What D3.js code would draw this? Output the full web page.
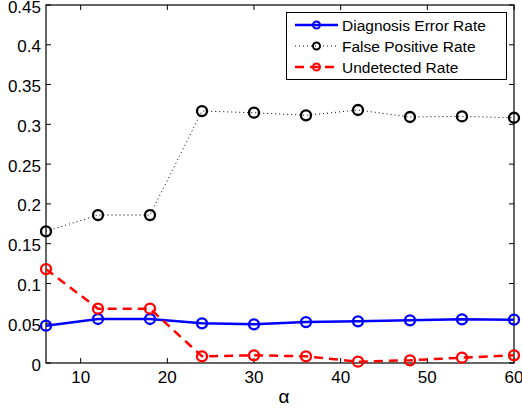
<!DOCTYPE html>
<html>
<head>
<meta charset="utf-8">
<script src="https://cdn.jsdelivr.net/npm/d3@7"></script>
<style>
  body { margin: 0; background: #fff; }
  text { font-family: "Liberation Sans", Arial, sans-serif; fill: #000; }
</style>
</head>
<body>
<svg id="chart" width="522" height="413"></svg>
<script>
// data
const alphas = [6, 12, 18, 24, 30, 36, 42, 48, 54, 60];
const diagnosisError = [0.0469, 0.0553, 0.0553, 0.0499, 0.0486, 0.0515, 0.0524, 0.0536, 0.0549, 0.0544];
const falsePositive = [0.1655, 0.186, 0.186, 0.3167, 0.3146, 0.3113, 0.318, 0.3092, 0.310, 0.3083];
const undetected = [0.118, 0.0683, 0.0683, 0.0084, 0.0097, 0.0084, 0.0017, 0.0034, 0.0067, 0.0097];
const xTicks = [10, 20, 30, 40, 50, 60];
const yTicks = [0, 0.05, 0.1, 0.15, 0.2, 0.25, 0.3, 0.35, 0.4, 0.45];

const series = [
  { name: 'Diagnosis Error Rate', values: diagnosisError, color: '#0000ff', width: 2.5, dash: null },
  { name: 'False Positive Rate', values: falsePositive, color: '#000000', width: 1, dash: '1,3' },
  { name: 'Undetected Rate', values: undetected, color: '#ff0000', width: 2.5, dash: '9,6' }
];

const svg = d3.select('#chart');
const plot = { left: 46, right: 514, top: 5, bottom: 363 };

const x = d3.scaleLinear().domain([6, 60]).range([plot.left, plot.right]);
const y = d3.scaleLinear().domain([0, 0.45]).range([plot.bottom, plot.top]);

// frame with inward ticks on all four sides
const g = svg.append('g');
g.append('rect')
  .attr('x', plot.left).attr('y', plot.top)
  .attr('width', plot.right - plot.left).attr('height', plot.bottom - plot.top)
  .attr('fill', 'none').attr('stroke', '#000').attr('stroke-width', 1.2);

const tickLen = 5;
xTicks.forEach(t => {
  g.append('line').attr('x1', x(t)).attr('x2', x(t)).attr('y1', plot.bottom).attr('y2', plot.bottom - tickLen).attr('stroke', '#000');
  g.append('line').attr('x1', x(t)).attr('x2', x(t)).attr('y1', plot.top).attr('y2', plot.top + tickLen).attr('stroke', '#000');
  g.append('text').attr('x', x(t)).attr('y', plot.bottom + 19.5)
    .attr('text-anchor', 'middle').style('font-size', '17px').text(t);
});
yTicks.forEach(t => {
  g.append('line').attr('x1', plot.left).attr('x2', plot.left + tickLen).attr('y1', y(t)).attr('y2', y(t)).attr('stroke', '#000');
  g.append('line').attr('x1', plot.right).attr('x2', plot.right - tickLen).attr('y1', y(t)).attr('y2', y(t)).attr('stroke', '#000');
  g.append('text').attr('x', plot.left - 5).attr('y', y(t) + 7.5)
    .attr('text-anchor', 'end').style('font-size', '17px').text(d3.format('')(t));
});

svg.append('text').attr('x', 284).attr('y', 403)
  .attr('text-anchor', 'middle').style('font-size', '19px').text('α');

const line = d3.line().x((d, i) => x(alphas[i])).y(d => y(d));

series.forEach(s => {
  svg.append('path')
    .datum(s.values)
    .attr('d', line)
    .attr('fill', 'none')
    .attr('stroke', s.color)
    .attr('stroke-width', s.width)
    .attr('stroke-dasharray', s.dash);
  svg.append('g').selectAll('circle')
    .data(s.values)
    .enter().append('circle')
    .attr('cx', (d, i) => x(alphas[i]))
    .attr('cy', d => y(d))
    .attr('r', 5)
    .attr('fill', 'none')
    .attr('stroke', s.color)
    .attr('stroke-width', 2.3);
});

// legend
const legend = svg.append('g');
legend.append('rect')
  .attr('x', 286.5).attr('y', 12.5).attr('width', 220).attr('height', 67)
  .attr('fill', '#fff').attr('stroke', '#000').attr('stroke-width', 1);
series.forEach((s, i) => {
  const ly = 25 + i * 21;
  legend.append('line')
    .attr('x1', 295).attr('x2', 338).attr('y1', ly).attr('y2', ly)
    .attr('stroke', s.color).attr('stroke-width', s.width)
    .attr('stroke-dasharray', s.dash);
  legend.append('circle')
    .attr('cx', 316.5).attr('cy', ly).attr('r', 3.5)
    .attr('fill', 'none').attr('stroke', s.color).attr('stroke-width', 2);
  legend.append('text')
    .attr('x', 342).attr('y', ly + 5.5)
    .style('font-size', '15.5px').text(s.name);
});
</script>
</body>
</html>
